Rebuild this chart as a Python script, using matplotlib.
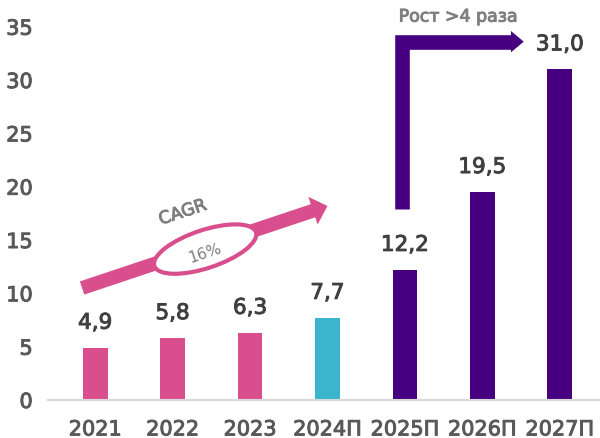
import numpy as np
import matplotlib
matplotlib.use("Agg")
import matplotlib.pyplot as plt
import matplotlib.patches as mpatches
import matplotlib.transforms as mtransforms
import matplotlib.patheffects as pe
from matplotlib.path import Path

# chart data
years = ["2021", "2022", "2023", "2024П", "2025П", "2026П", "2027П"]
values = [4.9, 5.8, 6.3, 7.7, 12.2, 19.5, 31.0]
colors = ["#D94F8E", "#D94F8E", "#D94F8E", "#3BB4CE", "#46007F", "#46007F", "#46007F"]
yticks = [0, 5, 10, 15, 20, 25, 30, 35]

pink = "#D94F8E"
purple = "#46007F"
grey = "#595959"

plt.rcParams['font.family'] = ['DejaVu Sans']


def heavy(c):
    # fake a medium font weight
    return [pe.withStroke(linewidth=0.7, foreground=c)]


fig = plt.figure(figsize=(6, 4.39), dpi=100)
ax = fig.add_axes([0.08, 0.0866, 0.92, 0.9134])

x = np.arange(len(years))
ax.bar(x, values, width=0.32, color=colors, zorder=2)

for xi, v in zip(x, values):
    ax.annotate(f"{v:.1f}".replace(".", ","), (xi, v), xytext=(0, 18),
                textcoords="offset points", ha="center", va="center",
                fontsize=15.5, color="#404040", path_effects=heavy("#404040"))

ax.set_xlim(-0.61, 6.52)
ax.set_ylim(0, 37.6)
ax.set_xticks(x)
ax.set_xticklabels(years, fontsize=15, color=grey)
ax.set_yticks(yticks)
ax.set_yticklabels([str(t) for t in yticks], fontsize=15, color=grey)
for lbl in ax.get_xticklabels() + ax.get_yticklabels():
    lbl.set_path_effects(heavy(grey))
ax.tick_params(axis="x", length=0, pad=14)
ax.tick_params(axis="y", length=0, pad=11)
for s in ["top", "right", "left"]:
    ax.spines[s].set_visible(False)
ax.spines["bottom"].set_color("#D9D9D9")
ax.spines["bottom"].set_linewidth(1.5)

# CAGR arrow
cagr = mpatches.FancyArrowPatch((-0.17, 10.5), (3.0, 18.2),
                                arrowstyle=mpatches.ArrowStyle.Simple(head_length=11, head_width=21, tail_width=10),
                                mutation_scale=1, shrinkA=0, shrinkB=0,
                                color=pink, lw=0, zorder=3)
ax.add_patch(cagr)
ell_tr = fig.dpi_scale_trans + mtransforms.ScaledTranslation(1.42, 14.15, ax.transData)
ell = mpatches.Ellipse((0, 0), 1.07, 0.38, angle=18.4, transform=ell_tr,
                       facecolor="white", edgecolor=pink, lw=3, zorder=4)
ax.add_patch(ell)
ax.text(1.13, 17.6, "CAGR", rotation=18.4, ha="center", va="center",
        fontsize=12.5, color="#7F7F7F", rotation_mode="anchor", zorder=5,
        path_effects=heavy("#7F7F7F"))
ax.text(1.42, 13.85, "16%", rotation=18.4, ha="center", va="center",
        fontsize=11, color="#7F7F7F", rotation_mode="anchor", zorder=5)

# growth connector arrow
verts = [(3.96, 17.9), (3.96, 33.6), (5.38, 33.6)]
conn = mpatches.PathPatch(Path(verts, [Path.MOVETO, Path.LINETO, Path.LINETO]),
                          fill=False, edgecolor=purple, lw=10.5, joinstyle="miter",
                          capstyle="butt", zorder=3)
ax.add_patch(conn)
head = mpatches.Polygon([(5.37, 34.6), (5.535, 33.6), (5.37, 32.6)], closed=True,
                        facecolor=purple, edgecolor="none", zorder=3)
ax.add_patch(head)
ax.text(3.92, 35.95, "Рост >4 раза", ha="left", va="center", fontsize=12.5,
        color="#7F7F7F", clip_on=False, path_effects=heavy("#7F7F7F"))

fig.savefig("out.png", dpi=100)
